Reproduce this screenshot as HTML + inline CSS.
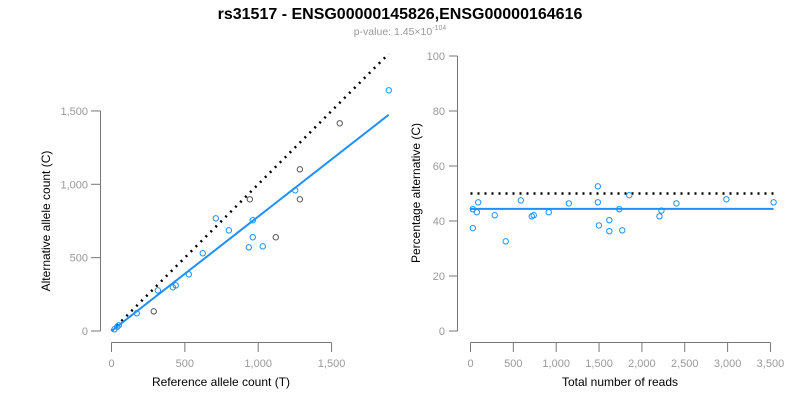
<!DOCTYPE html>
<html><head><meta charset="utf-8"><style>
body{margin:0;background:#fff;font-family:"Liberation Sans",sans-serif}
svg text{font-family:"Liberation Sans",sans-serif}
</style></head><body>
<svg id="c" width="800" height="400" viewBox="0 0 800 400">
<text x="400" y="19" text-anchor="middle" font-size="16" font-weight="bold" fill="#000">rs31517 - ENSG00000145826,ENSG00000164616</text>
<text x="400" y="35" text-anchor="middle" font-size="10.5" fill="#999">p-value: 1.45×10<tspan dy="-5" font-size="7">-104</tspan></text>
<text transform="translate(50,221) rotate(-90)" text-anchor="middle" font-size="12" fill="#000">Alternative allele count (C)</text>
<text x="221" y="386" text-anchor="middle" font-size="12" fill="#000">Reference allele count (T)</text>
<text transform="translate(420,193) rotate(-90)" text-anchor="middle" font-size="12" fill="#000">Percentage alternative (C)</text>
<text x="620" y="386" text-anchor="middle" font-size="12" fill="#000">Total number of reads</text>
<g id="L"></g><g id="R"></g>
</svg>
<script>
const leftRef=[1890,1556,1284,1252,1284,943,963,711,800,963,1120,936,1031,622,527,316,438,418,288,172,50,20,39];
const leftAlt=[1641,1416,1102,959,898,898,755,768,686,639,639,570,577,530,386,277,311,298,134,121,39,12,29];
const leftGrey=[0,1,1,0,1,1,0,0,0,0,1,0,0,0,0,0,0,0,1,0,0,0,0];
const leftTicks=[0,500,1000,1500];
const leftTickLabels=["0","500","1,000","1,500"];
const leftFitSlope=0.78;
const rightTotal=[1486,27,90,74,27,283,411,587,715,738,913,1147,1486,1498,1620,1620,1736,1771,1853,2205,2228,2403,2986,3537];
const rightPct=[52.6,44.3,46.8,43.2,37.4,42.1,32.6,47.5,41.7,42.1,43.2,46.4,46.8,38.4,40.3,36.3,44.3,36.6,49.4,41.7,43.8,46.4,47.9,46.8];
const rightXTicks=[0,500,1000,1500,2000,2500,3000,3500];
const rightXLabels=["0","500","1,000","1,500","2,000","2,500","3,000","3,500"];
const rightYTicks=[0,20,40,60,80,100];
const rightFitPct=44.4;
const NS="http://www.w3.org/2000/svg";
function mk(p,t,a){const e=document.createElementNS(NS,t);for(const k in a)e.setAttribute(k,a[k]);p.appendChild(e);return e;}
const L=document.getElementById('L'),R=document.getElementById('R');
const lx=v=>111.5+v*0.1467, ly=v=>331-v*0.1467;
let e=mk(L,'line',{x1:100.5,y1:ly(0),x2:100.5,y2:ly(1500),stroke:'#777'});

e=mk(L,'line',{x1:lx(0),y1:342.5,x2:lx(1500),y2:342.5,stroke:'#777'});

leftTicks.forEach((t,i)=>{
 mk(L,'line',{x1:91,y1:ly(t),x2:100.5,y2:ly(t),stroke:'#777'});
 let a=mk(L,'text',{x:88,y:ly(t)+4,'text-anchor':'end','font-size':11,fill:'#999'});a.textContent=leftTickLabels[i];
 
 mk(L,'line',{x1:lx(t),y1:342.5,x2:lx(t),y2:352,stroke:'#777'});
 let b=mk(L,'text',{x:lx(t),y:367,'text-anchor':'middle','font-size':11,fill:'#999'});b.textContent=leftTickLabels[i];
 
});
const lmax=Math.max(...leftRef);
e=mk(L,'line',{x1:lx(0),y1:ly(0),x2:lx(lmax),y2:ly(lmax),stroke:'#000','stroke-width':2.5,'stroke-dasharray':'2 5'});

e=mk(L,'line',{x1:lx(0),y1:ly(0),x2:lx(lmax),y2:ly(lmax*leftFitSlope),stroke:'#1e90ff','stroke-width':2});

leftRef.forEach((v,i)=>{
 const c=mk(L,'circle',{cx:lx(v),cy:ly(leftAlt[i]),r:2.7,fill:'none',stroke:leftGrey[i]?'#555':'#1e90ff','stroke-width':1});
 
});
const rx=v=>470.5+v*0.0857, ry=v=>331-v*2.75;
e=mk(R,'line',{x1:457.5,y1:ry(0),x2:457.5,y2:ry(100),stroke:'#777'});

e=mk(R,'line',{x1:rx(0),y1:342.5,x2:rx(3500),y2:342.5,stroke:'#777'});

rightYTicks.forEach(t=>{
 mk(R,'line',{x1:449,y1:ry(t),x2:457.5,y2:ry(t),stroke:'#777'});
 let a=mk(R,'text',{x:445,y:ry(t)+4,'text-anchor':'end','font-size':11,fill:'#999'});a.textContent=String(t);
 
});
rightXTicks.forEach((t,i)=>{
 mk(R,'line',{x1:rx(t),y1:342.5,x2:rx(t),y2:352,stroke:'#777'});
 let b=mk(R,'text',{x:rx(t),y:367,'text-anchor':'middle','font-size':11,fill:'#999'});b.textContent=rightXLabels[i];
 
});
const rmax=Math.max(...rightTotal);
e=mk(R,'line',{x1:rx(0),y1:ry(50),x2:rx(rmax),y2:ry(50),stroke:'#000','stroke-width':2.5,'stroke-dasharray':'2 5'});

e=mk(R,'line',{x1:rx(0),y1:ry(rightFitPct),x2:rx(rmax),y2:ry(rightFitPct),stroke:'#1e90ff','stroke-width':2});

rightTotal.forEach((v,i)=>{
 const c=mk(R,'circle',{cx:rx(v),cy:ry(rightPct[i]),r:2.7,fill:'none',stroke:'#1e90ff','stroke-width':1});
 
});
</script>
</body></html>
